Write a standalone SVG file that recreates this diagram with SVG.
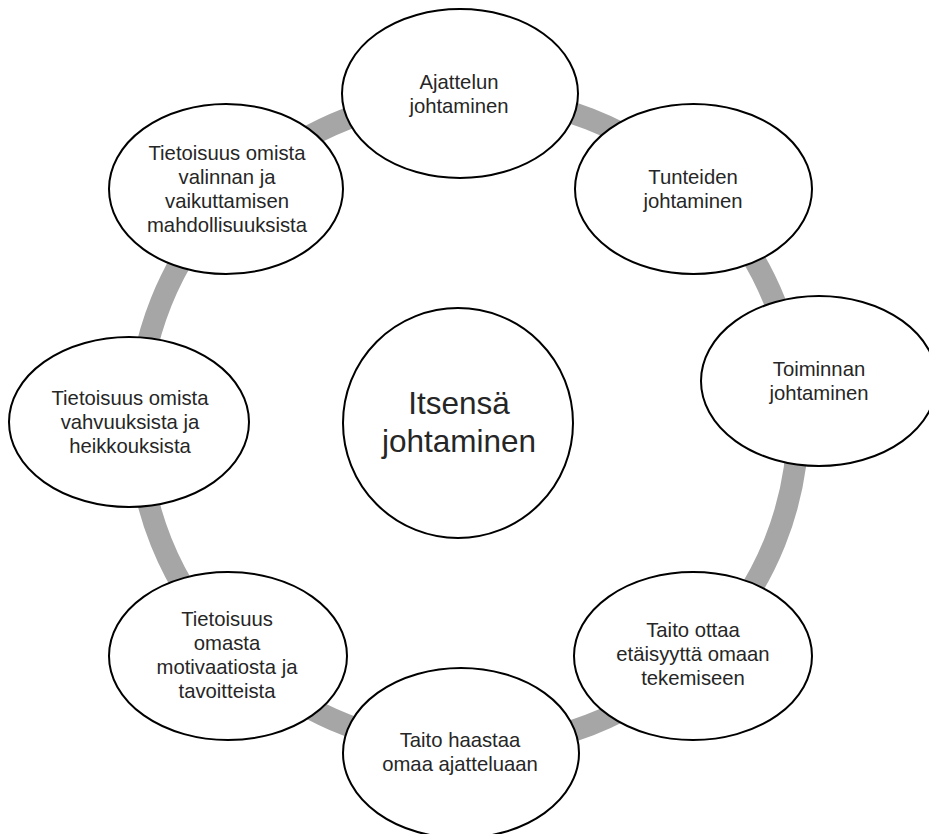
<svg xmlns="http://www.w3.org/2000/svg" width="929" height="834" viewBox="0 0 929 834">
<style>
.node{fill:#ffffff;stroke:#000000;stroke-width:2}
.t{font-family:"Liberation Sans",Arial,sans-serif;font-size:20.3px;fill:#262626;text-anchor:middle}
.tc{font-family:"Liberation Sans",Arial,sans-serif;font-size:31.5px;fill:#262626;text-anchor:middle}
.ring{fill:none;stroke:#A6A6A6;stroke-width:22}
</style>
<rect width="929" height="834" fill="#ffffff"/>
<g id="connectors">
<ellipse class="ring" cx="468" cy="422" rx="330" ry="326"/>
</g>
<g id="n1">
<ellipse class="node" cx="460" cy="93.5" rx="118" ry="84.5"/>
<text class="t" x="459" y="88.5">Ajattelun<tspan x="459" dy="24">johtaminen</tspan></text>
</g>
<g id="n2">
<ellipse class="node" cx="693.5" cy="189" rx="118.5" ry="85"/>
<text class="t" x="693" y="184">Tunteiden<tspan x="693" dy="24">johtaminen</tspan></text>
</g>
<g id="n3">
<ellipse class="node" cx="819" cy="381" rx="118" ry="85"/>
<text class="t" x="819" y="376">Toiminnan<tspan x="819" dy="24">johtaminen</tspan></text>
</g>
<g id="n4">
<ellipse class="node" cx="693" cy="656" rx="119" ry="84"/>
<text class="t" x="693" y="637">Taito ottaa<tspan x="693" dy="24">etäisyyttä omaan</tspan><tspan x="693" dy="24">tekemiseen</tspan></text>
</g>
<g id="n5">
<ellipse class="node" cx="461" cy="753" rx="118" ry="85"/>
<text class="t" x="460" y="747">Taito haastaa<tspan x="460" dy="24">omaa ajatteluaan</tspan></text>
</g>
<g id="n6">
<ellipse class="node" cx="228" cy="656" rx="119" ry="84"/>
<text class="t" x="227" y="626">Tietoisuus<tspan x="227" dy="24">omasta</tspan><tspan x="227" dy="24">motivaatiosta ja</tspan><tspan x="227" dy="24">tavoitteista</tspan></text>
</g>
<g id="n7">
<ellipse class="node" cx="129" cy="422" rx="120" ry="85"/>
<text class="t" x="130" y="405">Tietoisuus omista<tspan x="130" dy="24">vahvuuksista ja</tspan><tspan x="130" dy="24">heikkouksista</tspan></text>
</g>
<g id="n8">
<ellipse class="node" cx="226" cy="189" rx="117" ry="85"/>
<text class="t" x="227" y="160">Tietoisuus omista<tspan x="227" dy="24">valinnan ja</tspan><tspan x="227" dy="24">vaikuttamisen</tspan><tspan x="227" dy="24">mahdollisuuksista</tspan></text>
</g>
<g id="center">
<circle class="node" cx="458" cy="423" r="115"/>
<text class="tc" x="459" y="414">Itsensä<tspan x="459" dy="38">johtaminen</tspan></text>
</g>
</svg>
